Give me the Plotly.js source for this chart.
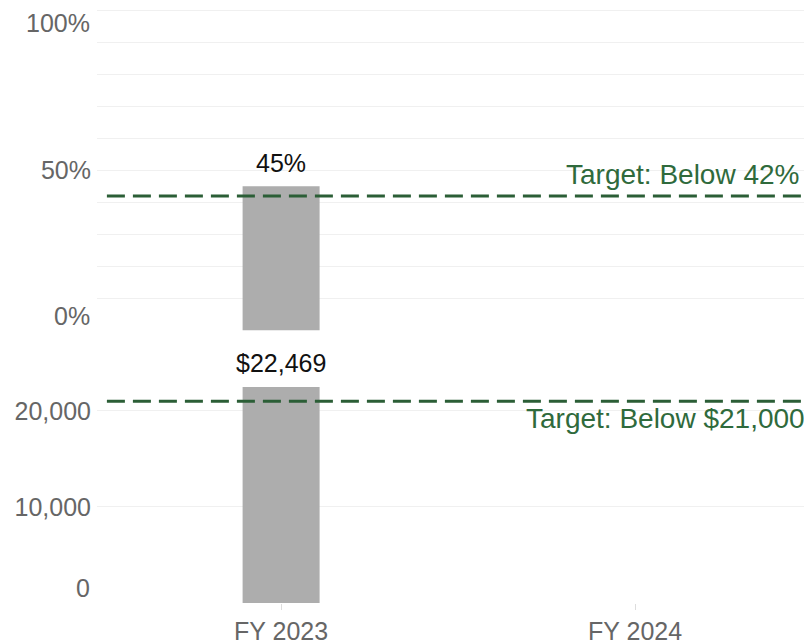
<!DOCTYPE html>
<html>
<head>
<meta charset="utf-8">
<script src="https://cdn.plot.ly/plotly-3.0.1.min.js"></script>
<style>html,body{margin:0;padding:0;background:#fff;}#chart{width:804px;height:643px;}</style>
</head>
<body>
<div id="chart"></div>
<script>
// ---- Data ----
const categories = ['FY 2023', 'FY 2024'];
const pctValues = [45, null];
const pctLabels = ['45%', ''];
const costValues = [22469, null];
const costLabels = ['$22,469', ''];
const pctTarget = 42;
const costTarget = 21000;
const pctTargetText = 'Target: Below 42%';
const costTargetText = 'Target: Below $21,000';
const pctTickVals = [0, 50, 100];
const pctTickText = ['0%', '50%', '100%'];
const costTickVals = [0, 10000, 20000];
const costTickText = ['0', '10,000', '20,000'];

// ---- Styles ----
const FONT = 'Arial, "Liberation Sans", sans-serif';
const barColor = '#adadad';
const targetColor = '#2b5e36';
const targetTextColor = '#2f6a3c';
const gridColor = '#f0f0f0';
const tickColor = '#666666';
const TICK_SIZE = 25;

const traces = [
  {
    type: 'bar', x: categories, y: pctValues, xaxis: 'x', yaxis: 'y2',
    marker: {color: barColor}, width: 0.2175, hoverinfo: 'skip'
  },
  {
    type: 'bar', x: categories, y: costValues, xaxis: 'x', yaxis: 'y',
    marker: {color: barColor}, width: 0.2175, hoverinfo: 'skip'
  }
];

// Axis labels: interior ticks drawn by the axis, edge ticks nudged inward (Tableau style)
function splitTicks(vals, texts, lo, hi) {
  const inner = {vals: [], texts: []}, edge = [];
  vals.forEach((v, i) => {
    if (v === lo || v === hi) edge.push({v: v, t: texts[i], shift: v === lo ? 15 : -13});
    else { inner.vals.push(v); inner.texts.push(texts[i]); }
  });
  return {inner, edge};
}
const pctSplit = splitTicks(pctTickVals, pctTickText, 0, 100);
const costSplit = splitTicks(costTickVals, costTickText, 0, 1e12);

const annotations = [];
pctSplit.edge.forEach(e => annotations.push({
  text: e.t, xref: 'paper', x: 0, xanchor: 'right', xshift: -5, yref: 'y2', y: e.v,
  yanchor: 'middle', yshift: e.shift, showarrow: false,
  font: {family: FONT, size: TICK_SIZE, color: tickColor}
}));
costSplit.edge.forEach(e => annotations.push({
  text: e.t, xref: 'paper', x: 0, xanchor: 'right', xshift: -5, yref: 'y', y: e.v,
  yanchor: 'middle', yshift: e.shift, showarrow: false,
  font: {family: FONT, size: TICK_SIZE, color: tickColor}
}));
// Bar value labels
categories.forEach((c, i) => {
  if (pctValues[i] != null) annotations.push({
    text: pctLabels[i], xref: 'x', x: c, yref: 'y2', y: pctValues[i], yanchor: 'bottom', yshift: 7,
    showarrow: false, font: {family: FONT, size: 25, color: '#111'}
  });
  if (costValues[i] != null) annotations.push({
    text: costLabels[i], xref: 'x', x: c, yref: 'y', y: costValues[i], yanchor: 'bottom', yshift: 8,
    showarrow: false, font: {family: FONT, size: 25, color: '#111'}
  });
});
// Target labels
annotations.push(
  {text: pctTargetText, xref: 'paper', x: 0.996, xanchor: 'right', yref: 'y2', y: pctTarget,
   yanchor: 'bottom', yshift: 4, showarrow: false,
   font: {family: FONT, size: 28, color: targetTextColor}},
  {text: costTargetText, xref: 'paper', x: 1.004, xanchor: 'right', yref: 'y', y: costTarget,
   yanchor: 'top', yshift: 0, showarrow: false,
   font: {family: FONT, size: 28, color: targetTextColor}}
);

const layout = {
  width: 804, height: 643,
  margin: {l: 97, r: 0, t: 0, b: 40},
  paper_bgcolor: '#ffffff', plot_bgcolor: '#ffffff',
  showlegend: false,
  font: {family: FONT, color: tickColor},
  xaxis: {
    type: 'category', range: [-0.52, 1.477], domain: [0, 1], anchor: 'y',
    showgrid: false, zeroline: false, showline: false,
    ticks: 'outside', ticklen: 6, tickcolor: '#dddddd',
    tickfont: {family: FONT, size: TICK_SIZE, color: tickColor}
  },
  yaxis: {
    domain: [0, 0.4279], range: [0, 26850], anchor: 'x',
    tickmode: 'array', tickvals: costSplit.inner.vals, ticktext: costSplit.inner.texts,
    showgrid: true, gridcolor: gridColor, zeroline: false, showline: false,
    ticks: '', ticklabelstandoff: 5,
    tickfont: {family: FONT, size: TICK_SIZE, color: tickColor}
  },
  yaxis2: {
    domain: [0.4519, 0.9917], range: [0, 101.56], anchor: 'x',
    tickmode: 'array', tickvals: pctSplit.inner.vals, ticktext: pctSplit.inner.texts,
    showgrid: true, gridcolor: gridColor, zeroline: false, showline: false,
    minor: {dtick: 10, tick0: 0, showgrid: true, gridcolor: gridColor, ticks: ''},
    ticks: '', ticklabelstandoff: 5,
    tickfont: {family: FONT, size: TICK_SIZE, color: tickColor}
  },
  shapes: [
    {type: 'line', xref: 'paper', x0: 0.014, x1: 1, yref: 'y2', y0: pctTarget, y1: pctTarget,
     line: {color: targetColor, width: 3, dash: '18px,8px'}},
    {type: 'line', xref: 'paper', x0: 0.014, x1: 1, yref: 'y', y0: costTarget, y1: costTarget,
     line: {color: targetColor, width: 3, dash: '18px,8px'}}
  ],
  annotations: annotations
};

Plotly.newPlot('chart', traces, layout, {displayModeBar: false, staticPlot: true});
</script>
</body>
</html>
